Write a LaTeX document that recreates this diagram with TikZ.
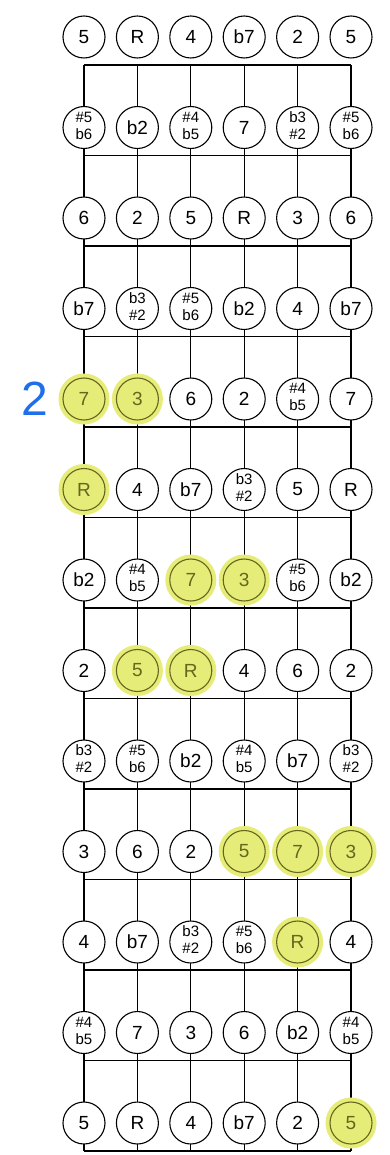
\documentclass[tikz,border=0pt]{standalone}
\usepackage{fontspec}
\setmainfont{Liberation Sans}
\usetikzlibrary{positioning}
\definecolor{hilite}{HTML}{E6EC78}
\definecolor{hlpen}{HTML}{66661E}
\definecolor{penblue}{HTML}{1F6FEB}
% two-line interval names
\newcommand{\twoup}[2]{{\fontsize{15}{17}\selectfont
  \begin{tabular}{@{}c@{}}#1\\#2\end{tabular}}}
\newcommand{\shfive}{\twoup{\#5}{b6}}
\newcommand{\shfour}{\twoup{\#4}{b5}}
\newcommand{\flthree}{\twoup{b3}{\#2}}

\begin{document}
\begin{tikzpicture}[
  x=1pt, y=-1pt,
  note/.style = {draw, circle, fill=white, line width=1.1pt,
                 minimum size=42pt, inner sep=0pt,
                 font=\fontsize{19}{19}\selectfont},
  lit/.style  = {fill=hilite, draw=hlpen, text=hlpen,
                 preaction={draw=hilite, line width=9pt}},
  wire/.style = {line width=1.3pt},
  hl-4-1/.style={lit}, hl-4-2/.style={lit}, hl-5-1/.style={lit},
  hl-6-3/.style={lit}, hl-6-4/.style={lit}, hl-7-2/.style={lit},
  hl-7-3/.style={lit}, hl-9-4/.style={lit}, hl-9-5/.style={lit},
  hl-9-6/.style={lit}, hl-10-5/.style={lit}, hl-12-6/.style={lit},
]
\useasboundingbox (0,0) rectangle (389,1155);

% fret points
\foreach \row in {0,...,12}
  \foreach \col in {1,...,6}
    \coordinate (f-\row-\col) at ({84+53.4*(\col-1)}, {65+90.5*\row});

% strings and frets
\foreach \col in {1,...,6}
  \draw[wire] (f-0-\col) -- (f-12-\col);
\foreach \row in {0,...,12}
  \draw[wire] (f-\row-1) -- (f-\row-6);

% notes
\foreach \row/\notes in {
    0/{5,R,4,b7,2,5},
    1/{\shfive,b2,\shfour,7,\flthree,\shfive},
    2/{6,2,5,R,3,6},
    3/{b7,\flthree,\shfive,b2,4,b7},
    4/{7,3,6,2,\shfour,7},
    5/{R,4,b7,\flthree,5,R},
    6/{b2,\shfour,7,3,\shfive,b2},
    7/{2,5,R,4,6,2},
    8/{\flthree,\shfive,b2,\shfour,b7,\flthree},
    9/{3,6,2,5,7,3},
    10/{4,b7,\flthree,\shfive,R,4},
    11/{\shfour,7,3,6,b2,\shfour},
    12/{5,R,4,b7,2,5}}
  \foreach \lab [count=\col] in \notes
    \node[note, hl-\row-\col/.try] (n-\row-\col)
      at ([yshift=28pt]f-\row-\col) {\lab};

\node[font=\fontsize{48}{48}\selectfont, text=penblue, inner sep=0pt]
  (pos) [left=14pt of n-4-1] {2};
\end{tikzpicture}
\end{document}
